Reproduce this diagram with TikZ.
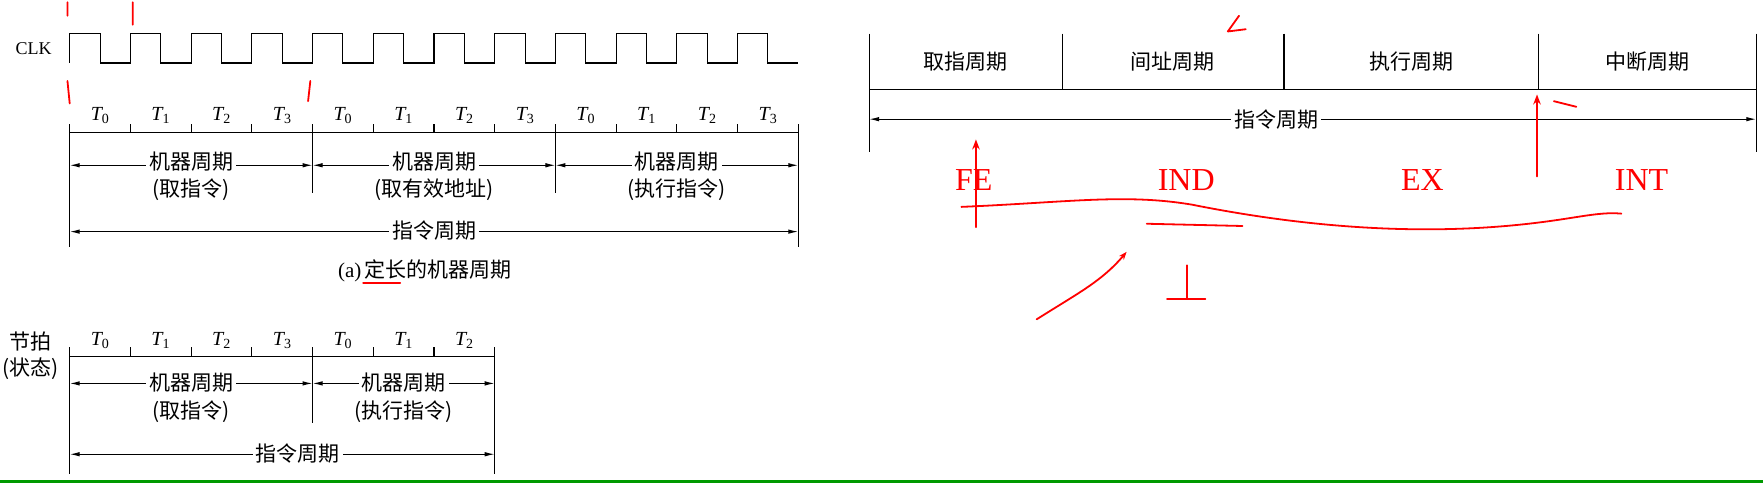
\documentclass[tikz,border=0pt]{standalone}
\usepackage{fontspec}
\setmainfont{Liberation Serif}
\newfontfamily\cjk{Noto Sans CJK SC}
\usetikzlibrary{arrows.meta}
\tikzset{
 ln/.style={line width=1.1pt},
 dim/.style={line width=1.1pt,{Latex[length=10pt,width=4.5pt]}-{Latex[length=10pt,width=4.5pt]}},
 zh/.style={font=\cjk\fontsize{21}{23}\selectfont,inner sep=1pt},
 zhw/.style={zh,fill=white,inner sep=3pt},
 tl/.style={font=\fontsize{20}{22}\selectfont\itshape},
 rd/.style={red,line width=1.8pt,line cap=round},
 rt/.style={red,font=\fontsize{32}{34}\selectfont}
}
\begin{document}
\begin{tikzpicture}[x=1.1244pt,y=-1.1244pt]
\useasboundingbox (0,0) rectangle (1568,431.3);
\draw[green!60!black,line width=3pt] (0,428) -- (1568,428);
% ---- (a)
\node[font=\fontsize{18}{20}\selectfont] (clk) at (30,43) {CLK};
\draw[ln] (62,56) -- (62,30)
 \foreach \i in {0,...,11}{ -- ({62+54*\i},30) -- ({62+54*\i+27},30) -- ({62+54*\i+27},56) -- ({62+54*\i+54},56) };
\foreach \i in {1,...,11}{\draw[ln] ({62+54*\i},56) -- ({62+54*\i},30);}
\draw[ln] (62,118) -- (710,118);
\foreach \i in {0,...,12}{\draw[ln] ({62+54*\i},118) -- ({62+54*\i},110);}
\foreach \k in {0,1,2}{\foreach \j in {0,...,3}{
 \node[tl] at ({62+216*\k+54*\j+27},103) {T\textsubscript{\upshape\j}};}}
\draw[ln] (62,118) -- (62,220) (278,118) -- (278,172) (494,118) -- (494,172) (710,118) -- (710,220);
\foreach \a/\b/\t/\s in {62/278/取指令/m1,278/494/取有效地址/m2,494/710/执行指令/m3}{
 \draw[dim] (\a,147) -- (\b,147);
 \node[zhw] (\s) at ({(\a+\b)/2},144) {机器周期};
 \node[zh] at ({(\a+\b)/2},169) {(\t)};}
\draw[dim] (62,206) -- (710,206);
\node[zhw] (ic1) at (386,205) {指令周期};
\node[zh] (cap) at (378,241) {\rmfamily(a)\,\cjk 定长的机器周期};
% ---- (b)
\node[zh] (jp) at (27,304) {节拍};
\node[zh] (zt) at (27,328) {(状态)};
\draw[ln] (62,317) -- (440,317);
\foreach \i in {0,...,7}{\draw[ln] ({62+54*\i},317) -- ({62+54*\i},309);}
\foreach \j/\x in {0/89,1/143,2/197,3/251,0/305,1/359,2/413}{\node[tl] at (\x,303) {T\textsubscript{\upshape\j}};}
\draw[ln] (62,317) -- (62,422) (278,317) -- (278,376) (440,317) -- (440,422);
\draw[dim] (62,341) -- (278,341); \node[zhw] at (170,340) {机器周期};
\draw[dim] (278,341) -- (440,341); \node[zhw] at (359,340) {机器周期};
\node[zh] at (170,366) {(取指令)}; \node[zh] at (359,366) {(执行指令)};
\draw[dim] (62,404) -- (440,404); \node[zhw] at (265,403) {指令周期};
% ---- right
\draw[ln] (773,30) -- (773,135) (1562,30) -- (1562,135) (773,80) -- (1562,80);
\foreach \x in {945,1142,1368}{\draw[ln] (\x,30) -- (\x,80);}
\node[zh] at (859,55) {取指周期};
\node[zh] at (1043,55) {间址周期};
\node[zh] at (1255,55) {执行周期};
\node[zh] at (1465,55) {中断周期};
\draw[dim] (773,106) -- (1562,106); \node[zhw] at (1135,106) {指令周期};
% ---- red annotations
\node[rt] at (866,160) {FE};
\node[rt] at (1055,160) {IND};
\node[rt] at (1265,160) {EX};
\node[rt] at (1460,160) {INT};
\draw[rd,-{Stealth[length=10pt]}] (868,202) -- (868,124);
\draw[rd,-{Stealth[length=10pt]}] (1367,157) -- (1367,84);
\draw[rd] (855,184) .. controls (950,180) and (1000,172) .. (1060,182) .. controls (1150,200) and (1250,210) .. (1350,200) .. controls (1400,195) and (1420,188) .. (1442,190);
\draw[rd,-{Stealth[length=8pt]}] (922,284) .. controls (960,260) and (980,250) .. (1002,224);
\draw[rd] (1020,199) -- (1105,201);
\draw[rd] (1056,236) -- (1056,266) (1038,266) -- (1072,266);
\draw[rd] (1382,90) -- (1402,95);
\draw[rd] (60,2) -- (60,14) (118,2) -- (118,22) (60,72) -- (62,92) (276,72) -- (274,90);
\draw[rd] (323,252) -- (356,252);
\draw[rd] (1092,28) -- (1102,14) (1092,28) -- (1108,26);
\end{tikzpicture}
\end{document}
